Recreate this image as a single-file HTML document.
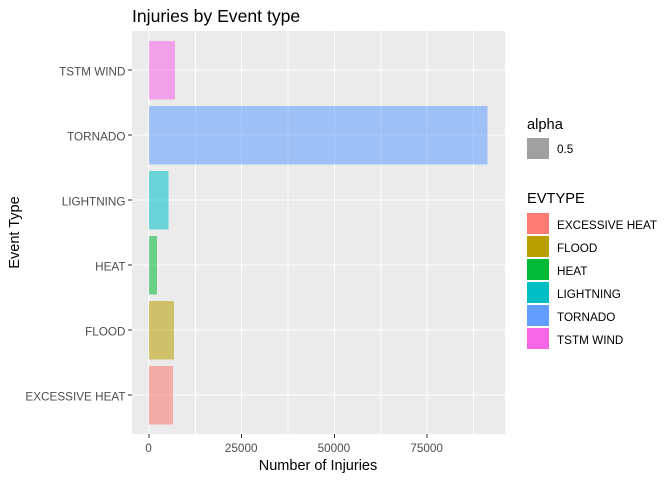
<!DOCTYPE html>
<html>
<head>
<meta charset="utf-8">
<title>Injuries by Event type</title>
<style>
html,body{margin:0;padding:0;background:#fff;width:672px;height:480px;overflow:hidden}
svg{display:block;font-family:"Liberation Sans",Arial,sans-serif}
rect,line{shape-rendering:crispEdges}
</style>
</head>
<body>
<svg id="chart" xmlns="http://www.w3.org/2000/svg" width="672" height="480" viewBox="0 0 672 480">
  <rect x="0" y="0" width="672" height="480" fill="#ffffff"/>
  <rect x="132" y="31" width="373" height="403" fill="#ebebeb"/>
  <g id="grid"></g>
  <g id="bars"></g>
  <g id="xaxis"></g>
  <g id="yaxis"></g>
  <text x="132" y="22" font-size="17.6" fill="#000">Injuries by Event type</text>
  <text x="318" y="470" font-size="14.5" fill="#000" text-anchor="middle">Number of Injuries</text>
  <text transform="translate(19,232.5) rotate(-90)" font-size="14.5" fill="#000" text-anchor="middle">Event Type</text>
  <g>
    <text x="527" y="129" font-size="14.67" fill="#000">alpha</text>
    <rect x="527" y="138" width="22" height="21" fill="#a0a0a0"/>
    <text x="557" y="153" font-size="11.73" fill="#000">0.5</text>
  </g>
  <g id="legend">
    <text x="527" y="203" font-size="14.67" fill="#000">EVTYPE</text>
  </g>
</svg>
<script>
const categories = ["EXCESSIVE HEAT", "FLOOD", "HEAT", "LIGHTNING", "TORNADO", "TSTM WIND"];
const injuries = [6525, 6789, 2100, 5230, 91346, 6957];
const colors = ["#F8766D", "#B79F00", "#00BA38", "#00BFC4", "#619CFF", "#F564E3"];
const keyColors = ["#FC7B72", "#BA9F00", "#00BA38", "#00BFC4", "#619CFF", "#F767E6"];
const xTicks = [0, 25000, 50000, 75000];
const xMinorTicks = [12500, 37500, 62500, 87500];

const NS = "http://www.w3.org/2000/svg";
const panel = { left: 132, right: 505, top: 31, bottom: 434 };
const xZero = 149, xPerUnit = 92.7 / 25000;
const yFirst = 395, yStep = 65, barBand = 0.9;

function xScale(v) { return xZero + v * xPerUnit; }
function yScale(i) { return yFirst - i * yStep; }
function make(tag, attrs, parent) {
  const el = document.createElementNS(NS, tag);
  for (const k in attrs) el.setAttribute(k, attrs[k]);
  parent.appendChild(el);
  return el;
}

const grid = document.getElementById("grid");
const barsG = document.getElementById("bars");
const xaxis = document.getElementById("xaxis");
const yaxis = document.getElementById("yaxis");
const legend = document.getElementById("legend");

xMinorTicks.forEach(function (t) {
  const l = make("line", { x1: xScale(t), x2: xScale(t), y1: panel.top, y2: panel.bottom, stroke: "#fff", "stroke-width": 1 }, grid);
  
  
});
xTicks.forEach(function (t) {
  const l = make("line", { x1: xScale(t), x2: xScale(t), y1: panel.top, y2: panel.bottom, stroke: "#fff", "stroke-width": 1 }, grid);
  
  

  const tick = make("line", { x1: xScale(t), x2: xScale(t), y1: panel.bottom, y2: panel.bottom + 4, stroke: "#333", "stroke-width": 1 }, xaxis);
  
  

  const label = make("text", { x: xScale(t) - 0.5, y: 452, "font-size": 11.73, fill: "#4d4d4d", "text-anchor": "middle" }, xaxis);
  
  
  label.textContent = String(t);
});

categories.forEach(function (c, i) {
  const y = yScale(i);
  const l = make("line", { x1: panel.left, x2: panel.right, y1: y, y2: y, stroke: "#fff", "stroke-width": 1 }, grid);
  
  

  const h = yStep * barBand;
  const bar = make("rect", { x: xScale(0), y: y - h / 2, width: xScale(injuries[i]) - xScale(0), height: h, fill: colors[i], "fill-opacity": 0.55 }, barsG);
  
  

  const tick = make("line", { x1: panel.left - 4, x2: panel.left, y1: y, y2: y, stroke: "#333", "stroke-width": 1 }, yaxis);
  
  

  const label = make("text", { x: 125.5, y: y + 5.5, "font-size": 11.73, fill: "#4d4d4d", "text-anchor": "end" }, yaxis);
  
  
  label.textContent = c;

  const ky = 213 + i * 23;
  const key = make("rect", { x: 527, y: ky, width: 22, height: 21, fill: keyColors[i] }, legend);
  
  

  const kt = make("text", { x: 557, y: ky + 16, "font-size": 11.73, fill: "#000" }, legend);
  
  
  kt.textContent = c;
});
</script>
</body>
</html>
